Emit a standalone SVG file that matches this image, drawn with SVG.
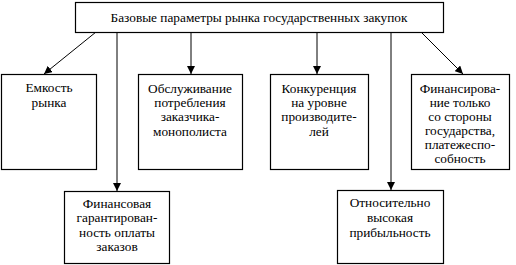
<svg xmlns="http://www.w3.org/2000/svg" width="516" height="265" viewBox="0 0 516 265">
<defs>
<marker id="ah" viewBox="0 0 10 10" refX="10" refY="5" markerWidth="8" markerHeight="8" markerUnits="userSpaceOnUse" orient="auto">
<path d="M0,0 L10,5 L0,10 Z" fill="#000"/>
</marker>
<style>
.box{fill:#fff;stroke:#000;stroke-width:1.2}
.t{font-family:'Liberation Serif','Times New Roman',serif;font-size:13.3px;fill:#000;text-anchor:middle}
.c{stroke:#000;stroke-width:1;fill:none;marker-end:url(#ah)}
</style>
</defs>
<rect width="516" height="265" fill="#fff"/>
<g id="connectors">
<line class="c" x1="96" y1="32" x2="44" y2="74"/>
<line class="c" x1="117" y1="32" x2="117" y2="191"/>
<line class="c" x1="191" y1="32" x2="191" y2="74"/>
<line class="c" x1="317" y1="32" x2="317" y2="74"/>
<line class="c" x1="391" y1="32" x2="391" y2="190"/>
<line class="c" x1="421" y1="32" x2="463" y2="74"/>
</g>
<g id="top">
<rect class="box" x="75.5" y="2.5" width="368" height="30"/>
<text class="t" x="259" y="22">Базовые параметры рынка государственных закупок</text>
</g>
<g id="n1">
<rect class="box" x="1.5" y="74.5" width="95" height="95"/>
<text class="t" x="49" y="92">Емкость</text>
<text class="t" x="49" y="107">рынка</text>
</g>
<g id="n2">
<rect class="box" x="138.5" y="74.5" width="104" height="95"/>
<text class="t" x="190" y="93">Обслуживание</text>
<text class="t" x="190" y="107">потребления</text>
<text class="t" x="190" y="121">заказчика-</text>
<text class="t" x="190" y="136">монополиста</text>
</g>
<g id="n3">
<rect class="box" x="270.5" y="74.5" width="98" height="95"/>
<text class="t" x="319" y="93">Конкуренция</text>
<text class="t" x="319" y="107">на уровне</text>
<text class="t" x="319" y="121">производите-</text>
<text class="t" x="319" y="136">лей</text>
</g>
<g id="n4">
<rect class="box" x="411.5" y="74.5" width="98" height="95"/>
<text class="t" x="460" y="93">Финансирова-</text>
<text class="t" x="460" y="107">ние только</text>
<text class="t" x="460" y="121">со стороны</text>
<text class="t" x="460" y="135">государства,</text>
<text class="t" x="460" y="149">платежеспо-</text>
<text class="t" x="460" y="163">собность</text>
</g>
<g id="n5">
<rect class="box" x="64.5" y="191.5" width="105" height="72"/>
<text class="t" x="117" y="208">Финансовая</text>
<text class="t" x="117" y="222">гарантирован-</text>
<text class="t" x="117" y="237">ность оплаты</text>
<text class="t" x="117" y="251">заказов</text>
</g>
<g id="n6">
<rect class="box" x="337.5" y="190.5" width="106" height="73"/>
<text class="t" x="390" y="207">Относительно</text>
<text class="t" x="390" y="222">высокая</text>
<text class="t" x="390" y="237">прибыльность</text>
</g>
</svg>
